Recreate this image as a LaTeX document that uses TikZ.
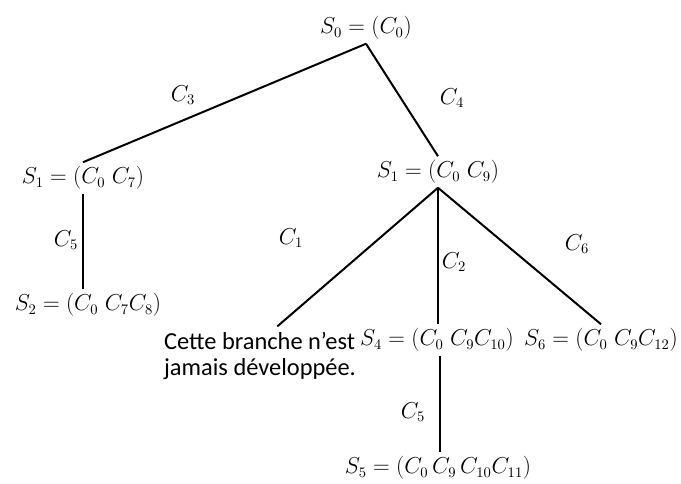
\documentclass[tikz,border=0pt]{standalone}
\usepackage{amsmath}
\usepackage{amssymb}
\usepackage{fontspec}
\newfontfamily\calib{Carlito}

\tikzset{
  etat/.style={inner sep=3pt, font=\fontsize{16}{19}\selectfont},
  arcl/.style={inner sep=0.75pt, font=\fontsize{16}{19}\selectfont},
  branche/.style={line width=1.5pt}
}

\begin{document}
\begin{tikzpicture}[x=0.75pt,y=0.75pt,yscale=-1,xscale=1]
\useasboundingbox (0,0) rectangle (681,484);

% Text Node
\draw (366,28) node [etat] (s0) {$S_{0} = (C_{0})$};
% Text Node
\draw (83,178) node [etat] (s1g) {$S_{1} = (C_{0}\ C_{7})$};
% Text Node
\draw (88,305) node [etat] (s2) {$S_{2} = (C_{0}\ C_{7}C_{8})$};
% Text Node
\draw (438,172) node [etat] (s1d) {$S_{1} = (C_{0}\ C_{9})$};
% Text Node
\draw (260,356) node [inner sep=4pt, align=left, font=\calib\fontsize{18.3}{20}\selectfont] (jam) {Cette branche n’est\\jamais développée.};
% Text Node
\draw (437,340) node [etat] (s4) {$S_{4} = (C_{0}\ C_{9}C_{10})$};
% Text Node
\draw (601,340) node [etat] (s6) {$S_{6} = (C_{0}\ C_{9}C_{12})$};
% Text Node
\draw (438,468) node [etat] (s5) {$S_{5} = (C_{0}\,C_{9}\,C_{10}C_{11})$};

% Straight Lines
\draw [branche] (s0.south) -- (s1g.north);
% Straight Lines
\draw [branche] (s0.south) -- (s1d.north);
% Straight Lines
\draw [branche] (s1g.south) -- (s1g.south |- s2.north);
% Straight Lines
\draw [branche] (s1d.south) -- ([xshift=13pt]jam.north);
% Straight Lines
\draw [branche] (s1d.south) -- (s1d.south |- s4.north);
% Straight Lines
\draw [branche] (s1d.south) -- (s6.north);
% Straight Lines
\draw [branche] ([xshift=2pt]s4.south) -- ([xshift=2pt]s4.south |- s5.north);

% Text Node
\draw (183,95) node [arcl] (c3) {$C_{3}$};
% Text Node
\draw (452,98) node [arcl] (c4) {$C_{4}$};
% Text Node
\draw (66,240) node [arcl] (c5g) {$C_{5}$};
% Text Node
\draw (291,238) node [arcl] (c1) {$C_{1}$};
% Text Node
\draw (454,262) node [arcl] (c2) {$C_{2}$};
% Text Node
\draw (577,244) node [arcl] (c6) {$C_{6}$};
% Text Node
\draw (413,412) node [arcl] (c5d) {$C_{5}$};

\end{tikzpicture}
\end{document}
